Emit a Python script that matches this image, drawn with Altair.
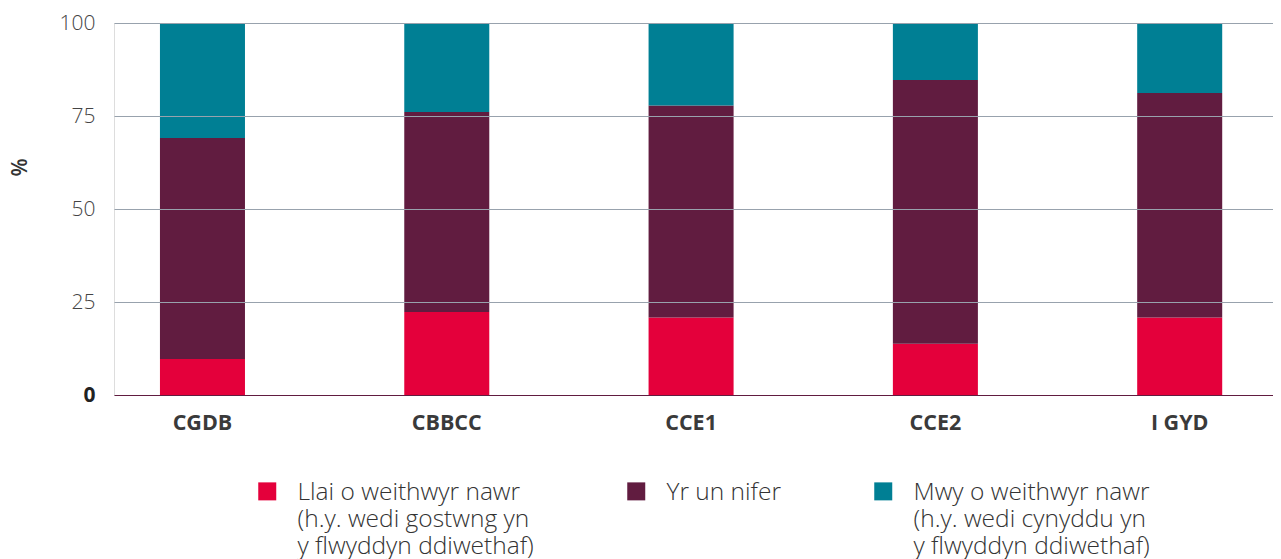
import altair as alt
import pandas as pd

categories = ["CGDB", "CBBCC", "CCE1", "CCE2", "I GYD"]
series = [
    "Llai o weithwyr nawr|(h.y. wedi gostwng yn|y flwyddyn ddiwethaf)",
    "Yr un nifer||",
    "Mwy o weithwyr nawr|(h.y. wedi cynyddu yn|y flwyddyn ddiwethaf)",
]
less_workers = [9.7, 22.3, 20.8, 13.8, 20.8]
same_number = [59.4, 53.8, 57.0, 70.9, 60.4]
more_workers = [30.9, 23.9, 22.2, 15.3, 18.8]
colors = ["#E4003B", "#611C40", "#007F94"]
y_ticks = [0, 25, 50, 75, 100]

rows = []
for i, c in enumerate(categories):
    for j, vals in enumerate([less_workers, same_number, more_workers]):
        rows.append({"category": c, "series": series[j], "order": j, "value": vals[i]})
df = pd.DataFrame(rows)

FONT = "Open Sans"

chart = alt.Chart(df).mark_bar().encode(
    x=alt.X(
        "category:N",
        sort=categories,
        scale=alt.Scale(paddingInner=0.652, paddingOuter=0.198, align=0.475),
        axis=alt.Axis(
            title=None, labelAngle=0, ticks=False, domain=False,
            labelFont=FONT, labelFontSize=21.5, labelFontWeight=700,
            labelColor="#3a3a3a", labelPadding=17,
        ),
    ),
    y=alt.Y(
        "value:Q",
        stack="zero",
        scale=alt.Scale(domain=[0, 100], nice=False),
        axis=alt.Axis(
            values=y_ticks, title="%", titleFont=FONT, titleFontSize=21,
            titleFontWeight=600, titleColor="#333333", titleX=-94, titleY=144,
            titleBaseline="middle",
            labelFont=FONT, labelFontSize=21,
            labelFontWeight={"condition": {"test": "datum.value == 0", "value": 700}, "value": 300},
            labelColor={"condition": {"test": "datum.value == 0", "value": "#222222"}, "value": "#444444"},
            labelPadding=19, ticks=False, domain=False, grid=True,
            gridColor={"condition": {"test": "datum.value == 0", "value": "#611C40"}, "value": "#98a2ad"},
            gridWidth=1, zindex=1,
        ),
    ),
    color=alt.Color(
        "series:N",
        sort=series,
        scale=alt.Scale(domain=series, range=colors),
        legend=alt.Legend(
            title=None, orient="none", legendX=141, legendY=465,
            direction="horizontal", padding=0,
            symbolType="M-1,-2H1V0H-1Z", symbolSize=324, symbolStrokeWidth=0,
            labelFont=FONT, labelFontSize=24.5, labelFontWeight=300,
            labelColor="#333333", labelBaseline="alphabetic",
            labelExpr="split(datum.label, '|')", labelLimit=0,
            columnPadding=90, labelOffset=18,
        ),
    ),
    order=alt.Order("order:Q"),
).properties(
    width=1159,
    height=372,
    padding={"left": 106, "top": 15, "right": 0, "bottom": 172},
    autosize=alt.AutoSizeParams(type="none"),
).configure_view(stroke=None).configure(
    style={"guide-label": {"lineHeight": 27}}
)

chart.save("out.html", embed_options={"renderer": "svg", "actions": False})
